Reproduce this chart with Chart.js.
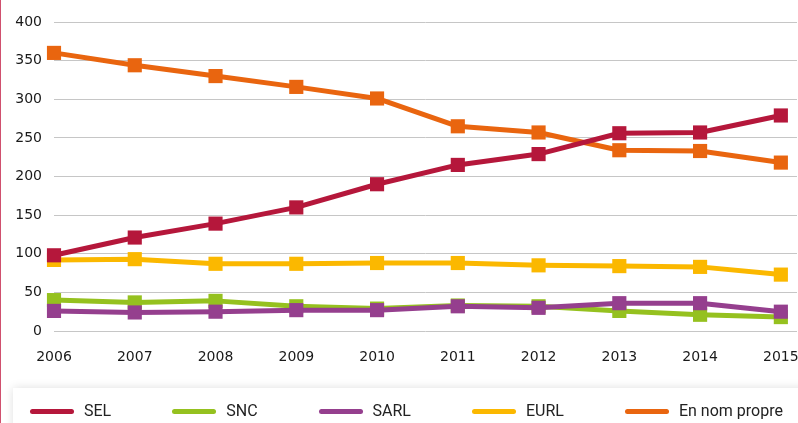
<!DOCTYPE html>
<html>
<head>
<meta charset="utf-8">
<script src="https://cdn.jsdelivr.net/npm/chart.js@4.4.1/dist/chart.umd.min.js"></script>
<style>
  html, body { margin: 0; padding: 0; background: #fff; }
  body { width: 798px; height: 423px; position: relative; overflow: hidden; }
  #edge { position: absolute; left: 0; top: 0; width: 1px; height: 423px; background: #d0506e; }
  #wrap { position: absolute; left: 0; top: 0; width: 798px; height: 380px; }
  #legend {
    position: absolute; left: 13px; top: 388px; width: 800px; height: 60px;
    background: #fff; box-shadow: 0 0 9px rgba(0,0,0,0.13);
    display: flex; align-items: flex-start; box-sizing: border-box; padding-left: 17px;
    font-family: Roboto, "Noto Sans", sans-serif; font-size: 16px; color: #222;
  }
  .item { display: flex; align-items: center; margin-top: 13px; margin-right: 61px; height: 20px; line-height: 20px; white-space: nowrap; }
  .swatch { width: 44px; height: 5px; border-radius: 3px; margin-right: 10px; }
</style>
</head>
<body>
<div id="edge"></div>
<div id="wrap"><canvas id="chart"></canvas></div>
<div id="legend"></div>
<script>
// Years on the horizontal axis
const years = [2006, 2007, 2008, 2009, 2010, 2011, 2012, 2013, 2014, 2015];
const yTicks = [0, 50, 100, 150, 200, 250, 300, 350, 400];

// Counts per legal form
const sel         = [98, 121, 139, 160, 190, 215, 229, 256, 257, 279];
const snc         = [40, 37, 39, 32, 29, 33, 32, 26, 21, 18];
const sarl        = [26, 24, 25, 27, 27, 32, 30, 36, 36, 25];
const eurl        = [92, 93, 87, 87, 88, 88, 85, 84, 83, 73];
const enNomPropre = [360, 344, 330, 316, 301, 265, 257, 234, 233, 218];

const seriesNames  = ['SEL', 'SNC', 'SARL', 'EURL', 'En nom propre'];
const seriesValues = [sel, snc, sarl, eurl, enNomPropre];
const seriesColors = ['#b5173b', '#95c11f', '#953f8e', '#fbb800', '#e9650f'];
const drawOrder    = [0, 2, 1, 3, 4];

const toPoints = vals => vals.map((v, i) => ({ x: years[i], y: v }));

const datasets = seriesNames.map((name, i) => ({
  label: name,
  data: toPoints(seriesValues[i]),
  borderColor: seriesColors[i],
  backgroundColor: seriesColors[i],
  borderWidth: 5,
  borderCapStyle: 'round',
  borderJoinStyle: 'round',
  pointStyle: 'rect',
  pointRadius: 10,
  pointHoverRadius: 10,
  pointBorderWidth: 0,
  tension: 0,
  fill: false,
  clip: false,
  order: drawOrder[i]
}));

const tickFont = { family: '"DejaVu Sans", sans-serif', size: 14 };

const chart = new Chart(document.getElementById('chart'), {
  type: 'line',
  data: { datasets },
  options: {
    responsive: true,
    maintainAspectRatio: false,
    animation: false,
    layout: { autoPadding: false, padding: { top: 22, right: 1, bottom: 0, left: 0 } },
    plugins: { legend: { display: false }, tooltip: { enabled: false } },
    scales: {
      x: {
        type: 'linear',
        min: years[0],
        max: years[years.length - 1] + 0.2,
        grid: { display: false, drawTicks: false },
        border: { display: false },
        ticks: {
          stepSize: 1,
          includeBounds: false,
          padding: 18,
          color: '#1a1a1a',
          font: tickFont,
          maxRotation: 0,
          autoSkip: false,
          callback: v => String(v)
        },
        afterFit: s => { s.height = 49; s.paddingLeft = 0; s.paddingRight = 0; }
      },
      y: {
        min: yTicks[0],
        max: yTicks[yTicks.length - 1],
        grid: { color: '#c6c6c6', lineWidth: 1, drawTicks: false },
        border: { display: false },
        afterBuildTicks: s => { s.ticks = yTicks.map(v => ({ value: v })); },
        ticks: { padding: 12, color: '#1a1a1a', font: tickFont },
        afterFit: s => { s.width = 54; }
      }
    }
  }
});

// Legend built from the chart's datasets
const legend = document.getElementById('legend');
chart.data.datasets.forEach(ds => {
  const item = document.createElement('div');
  item.className = 'item';
  const sw = document.createElement('span');
  sw.className = 'swatch';
  sw.style.background = ds.borderColor;
  const txt = document.createElement('span');
  txt.textContent = ds.label;
  item.appendChild(sw);
  item.appendChild(txt);
  legend.appendChild(item);
});
</script>
</body>
</html>
